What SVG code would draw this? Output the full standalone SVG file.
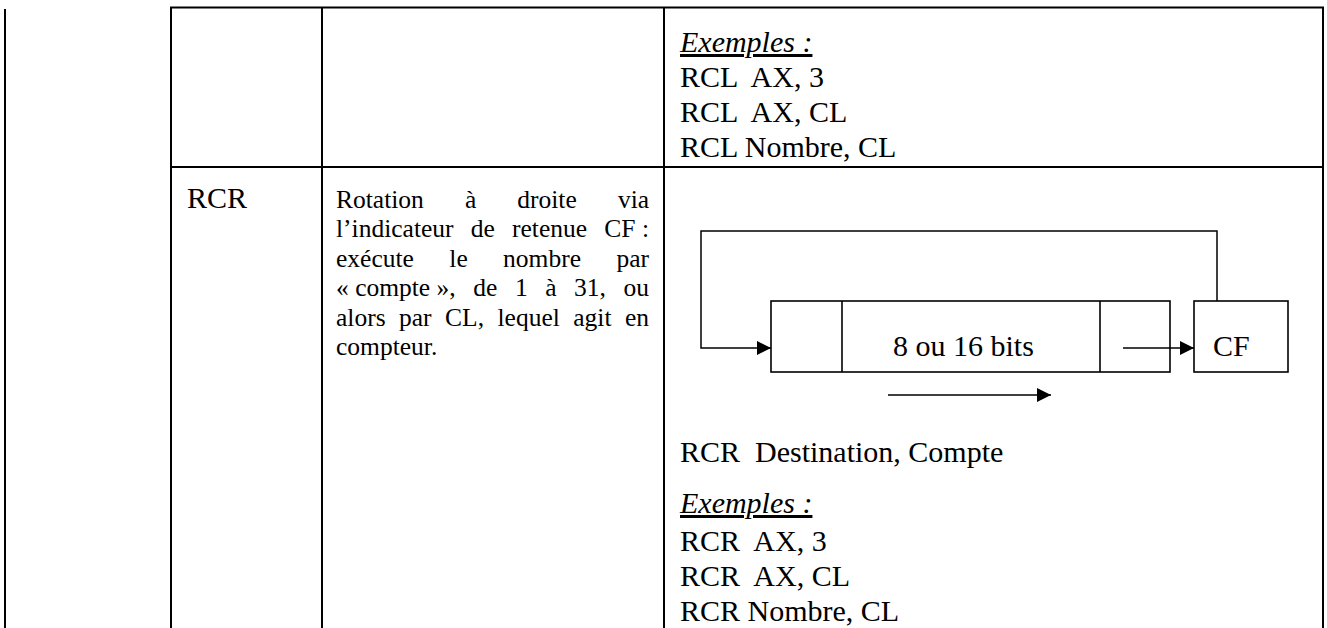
<svg xmlns="http://www.w3.org/2000/svg" width="1327" height="628" viewBox="0 0 1327 628">
  <style>
    .grid { stroke: #000; stroke-width: 2; fill: none; }
    .txt { font-family: "Liberation Serif", "Times New Roman", serif; font-size: 30px; fill: #000; }
    .small { font-family: "Liberation Serif", "Times New Roman", serif; font-size: 25.5px; fill: #000; }
    .ex { font-style: italic; text-decoration: underline; }
    .box { stroke: #000; stroke-width: 1.6; fill: #fff; }
    .wire { stroke: #000; stroke-width: 1.5; fill: none; }
  </style>
  <defs>
    <marker id="arrow" markerUnits="userSpaceOnUse" markerWidth="15" markerHeight="15" refX="14" refY="7" orient="auto">
      <path d="M0,0 L14,7 L0,14 Z" fill="#000"/>
    </marker>
  </defs>

  <rect width="1327" height="628" fill="#fff"/>

  <!-- table rules -->
  <g id="table">
    <line class="grid" x1="5" y1="9" x2="5" y2="628"/>
    <line class="grid" x1="170" y1="7.5" x2="1324" y2="7.5"/>
    <line class="grid" x1="171" y1="7" x2="171" y2="628"/>
    <line class="grid" x1="322" y1="7" x2="322" y2="628"/>
    <line class="grid" x1="664" y1="7" x2="664" y2="628"/>
    <line class="grid" x1="1323" y1="7" x2="1323" y2="628"/>
    <line class="grid" x1="170" y1="167" x2="1324" y2="167"/>
  </g>

  <!-- RCL row, examples -->
  <g id="rcl-examples" class="txt">
    <text x="680" y="52" class="ex">Exemples :</text>
    <text x="680" y="87" xml:space="preserve">RCL  AX, 3</text>
    <text x="680" y="122" xml:space="preserve">RCL  AX, CL</text>
    <text x="680" y="157">RCL Nombre, CL</text>
  </g>

  <!-- RCR row, mnemonic -->
  <g id="rcr-name">
    <text class="txt" x="187" y="208">RCR</text>
  </g>

  <!-- RCR row, justified description -->
  <g id="rcr-description" class="small">
    <text y="208"><tspan x="336">Rotation</tspan><tspan x="464.9">à</tspan><tspan x="517.3">droite</tspan><tspan x="617.9">via</tspan></text>
    <text y="237.4"><tspan x="336">l’indicateur</tspan><tspan x="470.8">de</tspan><tspan x="512">retenue</tspan><tspan x="604.2">CF</tspan><tspan x="641.9">:</tspan></text>
    <text y="266.8"><tspan x="336">exécute</tspan><tspan x="449.3">le</tspan><tspan x="503.1">nombre</tspan><tspan x="616.4">par</tspan></text>
    <text y="296.2"><tspan x="336">« compte »,</tspan><tspan x="473.3">de</tspan><tspan x="514.9">1</tspan><tspan x="545.2">à</tspan><tspan x="574.1">31,</tspan><tspan x="623.6">ou</tspan></text>
    <text y="325.6"><tspan x="336">alors</tspan><tspan x="399">par</tspan><tspan x="445.1">CL,</tspan><tspan x="497.5">lequel</tspan><tspan x="573.3">agit</tspan><tspan x="625">en</tspan></text>
    <text y="355"><tspan x="336">compteur.</tspan></text>
  </g>

  <!-- rotation through carry: register -->
  <g id="register">
    <rect class="box" x="771" y="301" width="399" height="71"/>
    <line class="box" x1="842" y1="301" x2="842" y2="372"/>
    <line class="box" x1="1100" y1="301" x2="1100" y2="372"/>
    <text class="txt" x="893" y="356">8 ou 16 bits</text>
  </g>

  <!-- carry flag -->
  <g id="cf">
    <rect class="box" x="1194" y="301" width="94" height="71"/>
    <text class="txt" x="1213" y="356">CF</text>
  </g>

  <!-- connectors -->
  <g id="connectors">
    <path class="wire" d="M1217,301 V231 H701 V348 H771" marker-end="url(#arrow)"/>
    <line class="wire" x1="1123" y1="348" x2="1194" y2="348" marker-end="url(#arrow)"/>
    <line class="wire" x1="888" y1="395" x2="1051" y2="395" marker-end="url(#arrow)"/>
  </g>

  <!-- RCR row, syntax and examples -->
  <g id="rcr-examples" class="txt">
    <text x="680" y="462" xml:space="preserve">RCR  Destination, Compte</text>
    <text x="680" y="513" class="ex">Exemples :</text>
    <text x="680" y="550.5" xml:space="preserve">RCR  AX, 3</text>
    <text x="680" y="585.5" xml:space="preserve">RCR  AX, CL</text>
    <text x="680" y="620.5">RCR Nombre, CL</text>
  </g>
</svg>
